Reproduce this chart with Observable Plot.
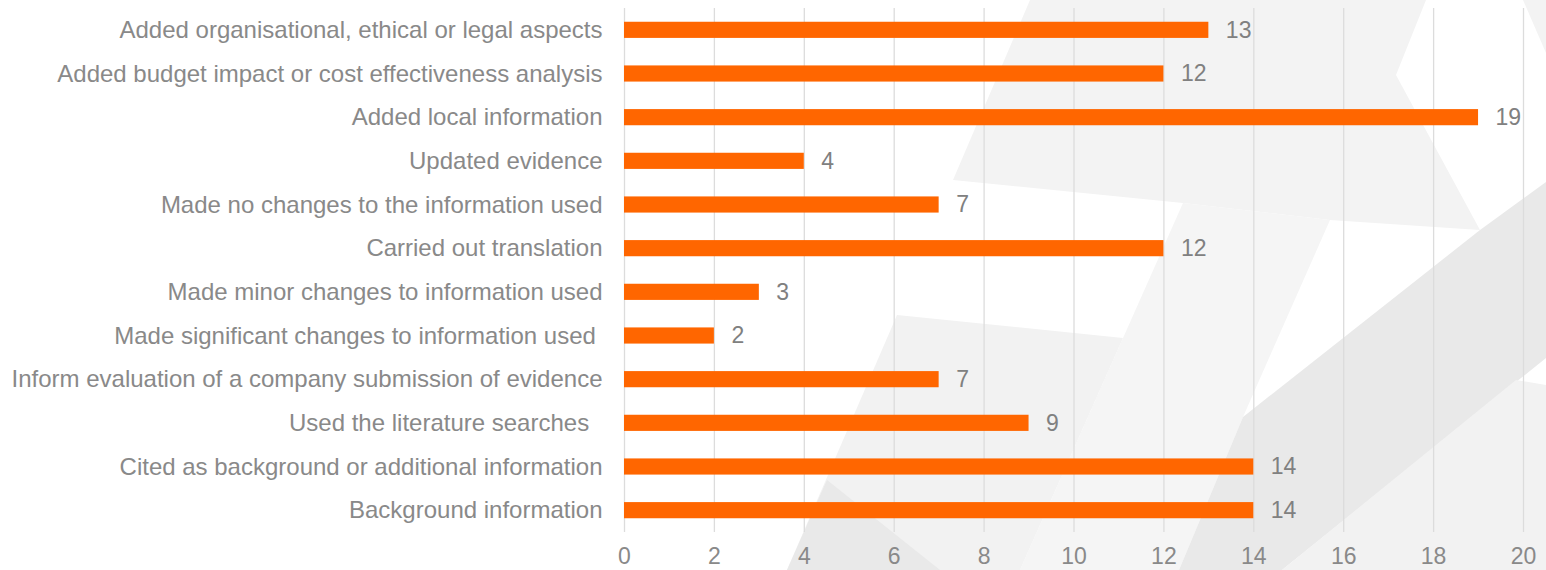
<!DOCTYPE html>
<html>
<head>
<meta charset="utf-8">
<script src="https://cdn.jsdelivr.net/npm/d3@7"></script>
<script src="https://cdn.jsdelivr.net/npm/@observablehq/plot@0.6"></script>
<style>
  html, body { margin: 0; padding: 0; background: #ffffff; }
  #wrap { position: relative; width: 1546px; height: 570px; overflow: hidden; }
  #backdrop { position: absolute; left: 0; top: 0; }
  #chart { position: absolute; left: 0; top: 0; }
  #chart svg text { white-space: pre; }
</style>
</head>
<body>
<div id="wrap">
  <svg id="backdrop" width="1546" height="570"></svg>
  <div id="chart"></div>
</div>
<script>
// Categories (top to bottom, as shown)
const categories = [
  "Added organisational, ethical or legal aspects",
  "Added budget impact or cost effectiveness analysis",
  "Added local information",
  "Updated evidence",
  "Made no changes to the information used",
  "Carried out translation",
  "Made minor changes to information used",
  "Made significant changes to information used ",
  "Inform evaluation of a company submission of evidence",
  "Used the literature searches  ",
  "Cited as background or additional information",
  "Background information"
];
// Values
const counts = [13, 12, 19, 4, 7, 12, 3, 2, 7, 9, 14, 14];
// X tick labels
const xTicks = [0, 2, 4, 6, 8, 10, 12, 14, 16, 18, 20];

// Decorative light-grey background facets (page decoration, not data)
const backdrop = [
  {fill: "#f3f3f3", pts: [[1030,0],[1426,0],[1396,75],[1480,230],[1330,220],[1183,203],[953,180]]},
  {fill: "#f3f3f3", pts: [[1523,0],[1546,0],[1546,53]]},
  {fill: "#f5f5f5", pts: [[1183,203],[1330,220],[1243,417],[1179,570],[1020,570]]},
  {fill: "#f2f2f2", pts: [[897,315],[1123,338],[1020,570],[787,570]]},
  {fill: "#e9e9e9", pts: [[827,480],[940,570],[787,570]]},
  {fill: "#e9e9e9", pts: [[1243,417],[1480,230],[1546,182],[1546,358],[1282,570],[1179,570]]},
  {fill: "#f2f2f2", pts: [[1282,570],[1516,380],[1546,385],[1546,570]]}
];

d3.select("#backdrop").selectAll("polygon")
  .data(backdrop)
  .join("polygon")
  .attr("fill", d => d.fill)
  .attr("points", d => d.pts.map(p => p.join(",")).join(" "));

const data = categories.map((c, i) => ({category: c, value: counts[i]}));

const font = "'Liberation Sans', Arial, Helvetica, sans-serif";

const chart = Plot.plot({
  width: 1546,
  height: 570,
  marginLeft: 624,
  marginRight: 23,
  marginTop: 8,
  marginBottom: 38,
  style: {background: "transparent", fontFamily: font, fontSize: "23px", color: "#898989"},
  x: {domain: [0, 20], ticks: xTicks},
  y: {domain: categories, paddingInner: 0.63, paddingOuter: 0.315, round: false},
  marks: [
    Plot.gridX(xTicks, {stroke: "#dcdcdc", strokeOpacity: 1, strokeWidth: 1.3}),
    Plot.barX(data, {x: "value", y: "category", fill: "#ff6600"}),
    Plot.text(data, {
      x: "value", y: "category", text: d => String(d.value),
      dx: 17, textAnchor: "start", fontSize: 23, fill: "#808080", fontFamily: font
    }),
    Plot.axisY({tickSize: 0, tickPadding: 22, fontSize: 24, fill: "#898989", label: null, fontFamily: font}),
    Plot.axisX({ticks: xTicks, tickSize: 0, tickPadding: 15, fontSize: 23, fill: "#898989", label: null, fontFamily: font})
  ]
});

document.getElementById("chart").appendChild(chart);
</script>
</body>
</html>
